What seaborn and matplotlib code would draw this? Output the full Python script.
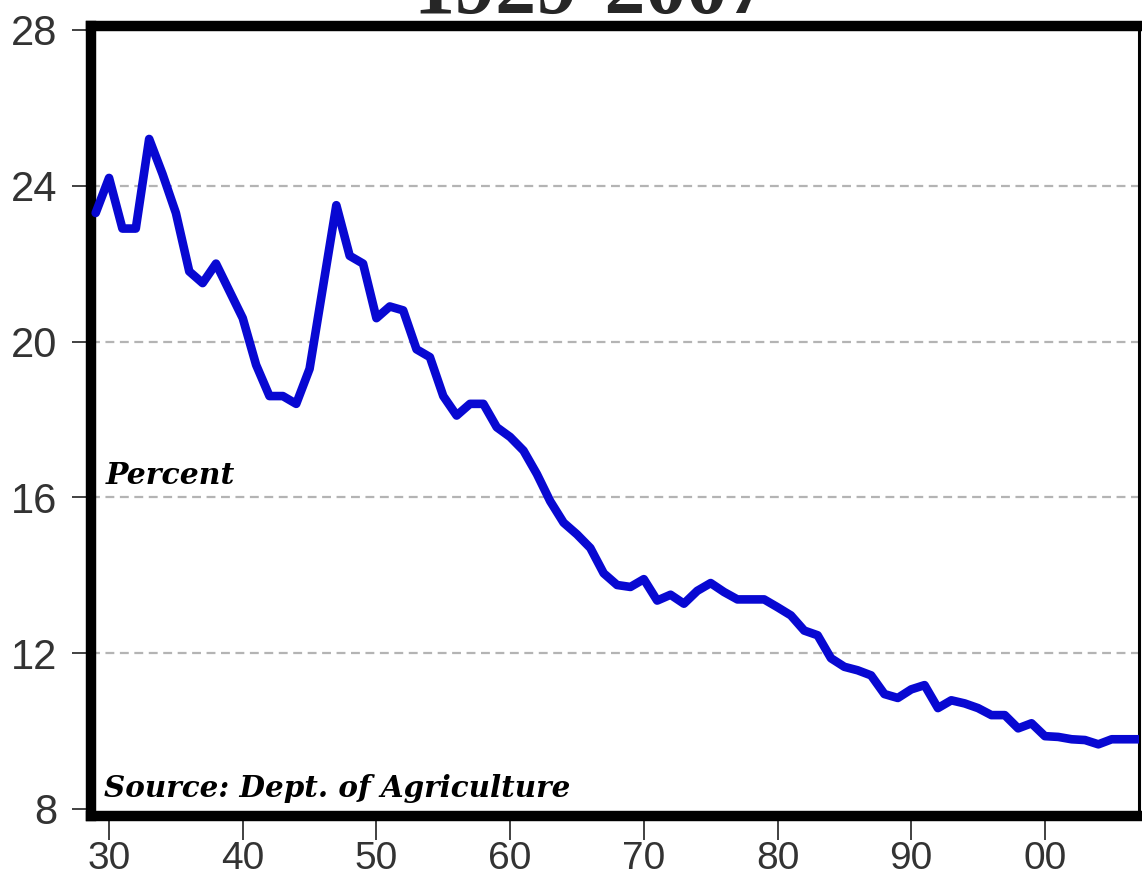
import matplotlib
matplotlib.use("Agg")
import matplotlib.pyplot as plt
import numpy as np
import pandas as pd
import seaborn as sns

sns.set_theme(style="white")

# Years 1929-2007 and the share (percent)
years = list(range(1929, 2008))
share = [23.3, 24.2, 22.9, 22.9, 25.2, 24.3, 23.3, 21.8, 21.5, 22.0,
         21.3, 20.6, 19.4, 18.6, 18.6, 18.4, 19.3, 21.4, 23.5, 22.2,
         22.0, 20.6, 20.9, 20.8, 19.8, 19.6, 18.6, 18.1, 18.4, 18.4,
         17.8, 17.55, 17.2, 16.6, 15.9, 15.35, 15.05, 14.7, 14.05, 13.75,
         13.7, 13.9, 13.35, 13.5, 13.27, 13.6, 13.8, 13.57, 13.38, 13.38,
         13.38, 13.18, 12.97, 12.58, 12.46, 11.87, 11.65, 11.56, 11.43, 10.95,
         10.85, 11.07, 11.18, 10.59, 10.79, 10.71, 10.59, 10.41, 10.41, 10.07,
         10.2, 9.87, 9.85, 9.79, 9.77, 9.66, 9.79, 9.79, 9.79]

xticks = [1930, 1940, 1950, 1960, 1970, 1980, 1990, 2000]
xticklabels = ["30", "40", "50", "60", "70", "80", "90", "00"]
yticks = [8, 12, 16, 20, 24, 28]

df = pd.DataFrame({"year": years, "share": share})

fig = plt.figure(figsize=(11.42, 8.84), dpi=100)
ax = fig.add_axes([91 / 1142, 68 / 884, 1048 / 1142, 790 / 884])

# gridlines
for yv in [12, 16, 20, 24]:
    ax.axhline(yv, color="#b4b4b4", linewidth=1.6,
               linestyle=(0, (4, 2.5)), zorder=1)

sns.lineplot(data=df, x="year", y="share", ax=ax, color="#0808d2",
             linewidth=6.2, zorder=3)

ax.set_xlim(1928.65, 2007.04)
ax.set_ylim(7.82, 28.1)
ax.set_xlabel("")
ax.set_ylabel("")
ax.grid(False)

ax.set_xticks(xticks)
ax.set_xticklabels(xticklabels)
ax.set_yticks(yticks)

for side in ["left", "top", "bottom"]:
    ax.spines[side].set_linewidth(7.5)
    ax.spines[side].set_color("black")
ax.spines["right"].set_linewidth(2.2)
ax.spines["right"].set_color("black")

ax.tick_params(axis="y", which="major", left=True, direction="out",
               length=14, width=1.3, color="#333333", pad=10,
               labelsize=30, labelcolor="#333333")
ax.tick_params(axis="x", which="major", bottom=True, direction="out",
               length=17, width=1.3, color="#333333", pad=1,
               labelsize=28, labelcolor="#333333")
for lab in ax.get_xticklabels() + ax.get_yticklabels():
    lab.set_family("Liberation Sans")

ax.text(0.014, 16.35, "Percent", fontsize=21.5, fontweight="bold",
        fontstyle="italic", family="DejaVu Serif", color="black",
        transform=ax.get_yaxis_transform(), va="baseline", ha="left")
ax.text(0.012, 8.3, "Source: Dept. of Agriculture", fontsize=21.2,
        fontweight="bold", fontstyle="italic", family="DejaVu Serif",
        color="black", transform=ax.get_yaxis_transform(),
        va="baseline", ha="left")

# title, mostly cut off by the top edge as in the original
fig.text(0.518, 1 - 13 / 884, "1929-2007", fontsize=59, fontweight="bold",
         family="Liberation Serif", ha="center", va="baseline")

plt.savefig("out.png", dpi=100)
